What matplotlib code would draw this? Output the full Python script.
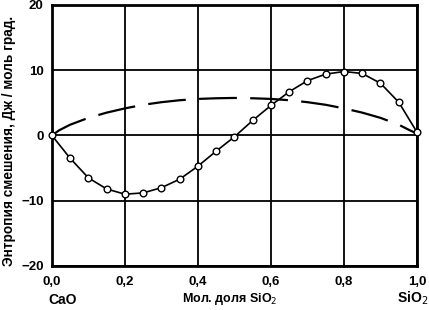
import numpy as np
import matplotlib.pyplot as plt

# Мольная доля SiO2
x_exp = [0.0, 0.05, 0.10, 0.15, 0.20, 0.25, 0.30, 0.35, 0.40, 0.45, 0.50,
         0.55, 0.60, 0.65, 0.70, 0.75, 0.80, 0.85, 0.90, 0.95, 1.0]
# Энтропия смешения (эксперимент), Дж / моль град.
s_exp = [0.0, -3.5, -6.5, -8.2, -9.0, -8.8, -8.0, -6.7, -4.7, -2.4, -0.2,
         2.3, 4.6, 6.7, 8.4, 9.4, 9.8, 9.5, 8.0, 5.1, 0.5]

# Идеальная энтропия смешения (штриховая линия)
x_id = [0.0, 0.02, 0.05, 0.10, 0.15, 0.20, 0.25, 0.30, 0.35, 0.40, 0.45, 0.50,
        0.55, 0.60, 0.65, 0.70, 0.75, 0.80, 0.85, 0.90, 0.95, 0.98, 1.0]
s_id = [0.0, 0.8, 1.65, 2.7, 3.5, 4.15, 4.7, 5.1, 5.4, 5.6, 5.7, 5.75,
        5.7, 5.6, 5.4, 5.1, 4.7, 4.15, 3.5, 2.7, 1.65, 0.8, 0.3]

x_ticks = [0.0, 0.2, 0.4, 0.6, 0.8, 1.0]
x_labels = ['0,0', '0,2', '0,4', '0,6', '0,8', '1,0']
y_ticks = [-20, -10, 0, 10, 20]

plt.rcParams['font.family'] = ['Liberation Sans', 'DejaVu Sans']

fig = plt.figure(figsize=(4.29, 3.10), dpi=100)
ax = fig.add_axes([0.121, 0.142, 0.851, 0.842])

ax.plot(x_id, s_id, color='black', lw=1.6, dashes=(17, 6), zorder=3)
ax.plot(x_exp, s_exp, color='black', lw=1.2, marker='o', ms=4.8,
        mfc='white', mec='black', mew=1.0, zorder=4, clip_on=False)

ax.set_xlim(0, 1)
ax.set_ylim(-20, 20)
ax.set_xticks(x_ticks)
ax.set_xticklabels(x_labels)
ax.set_yticks(y_ticks)
ax.grid(True, color='black', lw=1.3)
ax.tick_params(length=0, labelsize=9.5)
ax.tick_params(axis='x', pad=7)
ax.tick_params(axis='y', pad=6)
for lab in ax.get_xticklabels() + ax.get_yticklabels():
    lab.set_fontweight('bold')
for sp in ax.spines.values():
    sp.set_linewidth(2)

fig.text(0.022, 0.545, 'Энтропия смешения, Дж / моль град.', rotation=90,
         ha='center', va='center', fontsize=9.8, fontweight='bold')
fig.text(0.535, 0.035, 'Мол. доля SiO$_2$', ha='center', va='center',
         fontsize=9, fontweight='bold')
fig.text(0.145, 0.033, 'CaO', ha='center', va='center', fontsize=10,
         fontweight='bold')
fig.text(0.963, 0.038, 'SiO$_2$', ha='center', va='center', fontsize=10,
         fontweight='bold')

fig.savefig('out.png', dpi=100)
